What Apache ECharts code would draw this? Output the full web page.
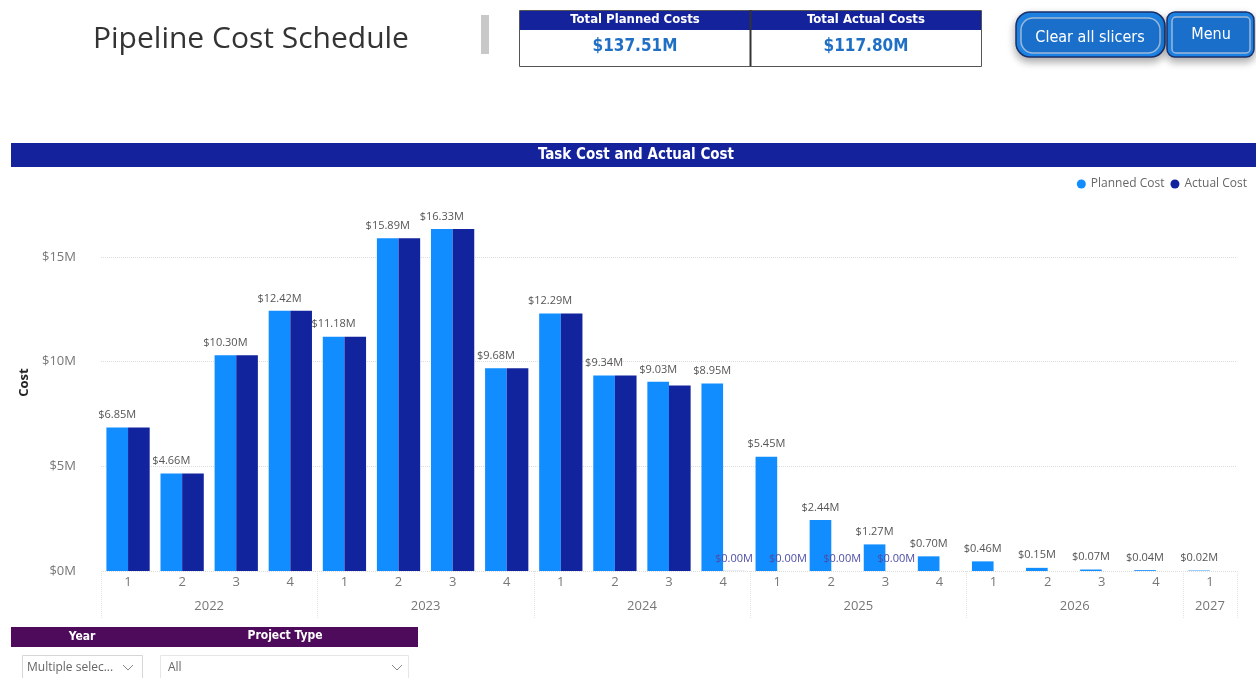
<!DOCTYPE html>
<html>
<head>
<meta charset="utf-8">
<title>Pipeline Cost Schedule</title>
<script src="https://cdn.jsdelivr.net/npm/echarts@6/dist/echarts.min.js"></script>
<style>
  html, body { margin: 0; padding: 0; background: #fff; }
  #main { width: 1256px; height: 678px; }
</style>
</head>
<body>
<div id="main"></div>
<script>
// quarters along the axis, with the year each one belongs to
var quarterLabels = ["1", "2", "3", "4", "1", "2", "3", "4", "1", "2", "3", "4",
  "1", "2", "3", "4", "1", "2", "3", "4", "1"];
var periodYears = ["2022", "2022", "2022", "2022", "2023", "2023", "2023", "2023",
  "2024", "2024", "2024", "2024", "2025", "2025", "2025", "2025",
  "2026", "2026", "2026", "2026", "2027"];

// costs in $M
var plannedCost = [6.85, 4.66, 10.30, 12.42, 11.18, 15.89, 16.33, 9.68, 12.29, 9.34,
  9.03, 8.95, 5.45, 2.44, 1.27, 0.70, 0.46, 0.15, 0.07, 0.04, 0.02];
var actualCost = [6.85, 4.66, 10.30, 12.42, 11.18, 15.89, 16.33, 9.68, 12.29, 9.34,
  8.86, 0.004, 0, 0, 0, null, null, null, null, null, null];

var yMax = 18;
var yStep = 5;

var kpiLabels = ["Total Planned Costs", "Total Actual Costs"];
var kpiValues = ["$137.51M", "$117.80M"];

var PLANNED = "#118DFF";
var ACTUAL = "#12239E";
var FONT = "'Open Sans', 'Noto Sans', sans-serif";
var NARROW = "'Liberation Sans Narrow', 'DejaVu Sans Condensed', sans-serif";

// year axis is built on half-quarter steps so a year name can sit in the middle of its quarters
var yearSlots = [];
for (var k = 0; k <= quarterLabels.length * 2; k++) yearSlots.push("");
var yearLabelIdx = {};
var yearSepIdx = { 0: true };
var i = 0;
while (i < periodYears.length) {
  var j = i;
  while (j + 1 < periodYears.length && periodYears[j + 1] === periodYears[i]) j++;
  yearSlots[i + j + 1] = periodYears[i];
  yearLabelIdx[i + j + 1] = true;
  yearSepIdx[2 * (j + 1)] = true;
  i = j + 1;
}

function money(v) {
  return "$" + v.toFixed(2) + "M";
}

// only show actual labels where they would not sit on top of the planned label
var actualData = actualCost.map(function (v, idx) {
  if (v === null) return null;
  var far = Math.abs(plannedCost[idx] - v) > 1;
  return {
    value: v,
    label: { show: far }
  };
});

var myChart = echarts.init(document.getElementById("main"));

var option = {
  animation: false,
  textStyle: { fontFamily: FONT },
  legend: {
    data: ["Planned Cost", "Actual Cost"],
    right: 4,
    top: 173,
    icon: "circle",
    itemWidth: 9,
    itemHeight: 9,
    itemGap: 6,
    textStyle: { color: "#666", fontSize: 12, fontFamily: FONT },
  },
  grid: {
    left: 101,
    right: 19,
    top: 194,
    bottom: 107,
  },
  xAxis: [
    {
      type: "category",
      position: "bottom",
      data: quarterLabels,
      axisLine: { show: false, onZero: false },
      axisTick: { show: false },
      axisLabel: { color: "#777", fontSize: 13, margin: 5, interval: 0 },
    },
    {
      type: "category",
      position: "bottom",
      boundaryGap: false,
      data: yearSlots,
      axisLine: { show: false, onZero: false },
      axisTick: {
        show: true,
        length: 48,
        interval: function (index) {
          return !!yearSepIdx[index];
        },
        lineStyle: { color: "#e3e3e3", type: "dotted" },
      },
      axisLabel: {
        color: "#777",
        fontSize: 13,
        margin: 29,
        interval: function (index) {
          return !!yearLabelIdx[index];
        },
      },
    },
  ],
  yAxis: {
    type: "value",
    min: 0,
    max: yMax,
    interval: yStep,
    name: "Cost",
    nameLocation: "middle",
    nameGap: 67,
    nameTextStyle: { color: "#252423", fontSize: 13, fontWeight: "bold" },
    axisLine: { show: false },
    axisTick: { show: false },
    axisLabel: {
      color: "#777",
      fontSize: 13,
      margin: 25,
      showMaxLabel: false,
      formatter: function (v) {
        return v % yStep === 0 ? "$" + v + "M" : "";
      },
    },
    splitLine: {
      show: true,
      showMaxLine: false,
      lineStyle: { color: "#dcdcdc", type: "dotted" },
    },
  },
  series: [
    {
      name: "Planned Cost",
      type: "bar",
      data: plannedCost,
      itemStyle: { color: PLANNED },
      barGap: "0%",
      barCategoryGap: "20%",
      label: {
        show: true,
        position: "top",
        distance: 7,
        color: "#555",
        fontSize: 11,
        formatter: function (p) {
          return money(p.value);
        },
      },
    },
    {
      name: "Actual Cost",
      type: "bar",
      data: actualData,
      itemStyle: { color: ACTUAL },
      barGap: "0%",
      barCategoryGap: "20%",
      label: {
        show: true,
        position: "top",
        distance: 7,
        color: "#4d4da6",
        fontSize: 11,
        formatter: function (p) {
          return money(p.value);
        },
      },
    },
  ],
  graphic: {
    elements: [
      // page title
      {
        type: "text",
        x: 93,
        y: 39,
        style: {
          text: "Pipeline Cost Schedule",
          fill: "#333",
          font: "30px " + FONT,
          verticalAlign: "middle",
        },
      },
      {
        type: "rect",
        shape: { x: 481, y: 15, width: 8, height: 39 },
        style: { fill: "#c8c8c8" },
      },
      // kpi cards
      {
        type: "rect",
        shape: { x: 519.5, y: 10.5, width: 462, height: 56 },
        style: { fill: "#fff", stroke: "#555", lineWidth: 1 },
      },
      {
        type: "rect",
        shape: { x: 520, y: 11, width: 461, height: 19 },
        style: { fill: "#14239c" },
      },
      {
        type: "line",
        shape: { x1: 750.5, y1: 10, x2: 750.5, y2: 66 },
        style: { stroke: "#333", lineWidth: 2 },
      },
      {
        type: "text",
        x: 635,
        y: 20,
        style: { text: kpiLabels[0], fill: "#fff", font: "bold 13px " + NARROW, align: "center", verticalAlign: "middle" },
      },
      {
        type: "text",
        x: 866,
        y: 20,
        style: { text: kpiLabels[1], fill: "#fff", font: "bold 13px " + NARROW, align: "center", verticalAlign: "middle" },
      },
      {
        type: "text",
        x: 635,
        y: 47,
        style: { text: kpiValues[0], fill: "#1f6fc5", font: "bold 17px " + NARROW, align: "center", verticalAlign: "middle" },
      },
      {
        type: "text",
        x: 866,
        y: 47,
        style: { text: kpiValues[1], fill: "#1f6fc5", font: "bold 17px " + NARROW, align: "center", verticalAlign: "middle" },
      },
      // buttons
      {
        type: "rect",
        shape: { x: 1016, y: 12, width: 149, height: 45, r: 14 },
        style: { fill: "#1d86ea", stroke: "#1b2f6a", lineWidth: 1.5, shadowBlur: 8, shadowOffsetY: 4, shadowColor: "rgba(0,0,0,0.35)" },
      },
      {
        type: "rect",
        shape: { x: 1021, y: 18, width: 139, height: 35, r: 12 },
        style: { fill: "#1a6fcb", stroke: "#9fb8d8", lineWidth: 1.5 },
      },
      {
        type: "text",
        x: 1090,
        y: 38,
        style: { text: "Clear all slicers", fill: "#fff", font: "16px " + NARROW, align: "center", verticalAlign: "middle" },
      },
      {
        type: "rect",
        shape: { x: 1167, y: 12, width: 87, height: 45, r: 8 },
        style: { fill: "#1d86ea", stroke: "#1b2f6a", lineWidth: 1.5, shadowBlur: 8, shadowOffsetY: 4, shadowColor: "rgba(0,0,0,0.35)" },
      },
      {
        type: "rect",
        shape: { x: 1172, y: 17, width: 78, height: 36, r: 4 },
        style: { fill: "#1a6fcb", stroke: "#9fb8d8", lineWidth: 1.5 },
      },
      {
        type: "text",
        x: 1211,
        y: 35,
        style: { text: "Menu", fill: "#fff", font: "16px " + NARROW, align: "center", verticalAlign: "middle" },
      },
      // chart header
      {
        type: "rect",
        shape: { x: 11, y: 143, width: 1245, height: 24 },
        style: { fill: "#14239c" },
      },
      {
        type: "text",
        x: 636,
        y: 155,
        style: { text: "Task Cost and Actual Cost", fill: "#fff", font: "bold 15px " + NARROW, align: "center", verticalAlign: "middle" },
      },
      // slicers
      {
        type: "rect",
        shape: { x: 11, y: 627, width: 141, height: 20 },
        style: { fill: "#4e0b5c" },
      },
      {
        type: "rect",
        shape: { x: 152, y: 627, width: 266, height: 20 },
        style: { fill: "#4e0b5c" },
      },
      {
        type: "text",
        x: 82,
        y: 637,
        style: { text: "Year", fill: "#fff", font: "bold 12px " + NARROW, align: "center", verticalAlign: "middle" },
      },
      {
        type: "text",
        x: 285,
        y: 636,
        style: { text: "Project Type", fill: "#fff", font: "bold 12px " + NARROW, align: "center", verticalAlign: "middle" },
      },
      {
        type: "rect",
        shape: { x: 22.5, y: 655.5, width: 120, height: 26 },
        style: { fill: "#fff", stroke: "#d6d6d6", lineWidth: 1 },
      },
      {
        type: "text",
        x: 27,
        y: 668,
        style: { text: "Multiple selec...", fill: "#666", font: "12px " + FONT, verticalAlign: "middle" },
      },
      {
        type: "polyline",
        shape: { points: [[123, 665], [128, 670], [133, 665]] },
        style: { stroke: "#888", lineWidth: 1, fill: null },
      },
      {
        type: "rect",
        shape: { x: 160.5, y: 655.5, width: 248, height: 26 },
        style: { fill: "#fff", stroke: "#e6e6e6", lineWidth: 1 },
      },
      {
        type: "text",
        x: 168,
        y: 668,
        style: { text: "All", fill: "#666", font: "12px " + FONT, verticalAlign: "middle" },
      },
      {
        type: "polyline",
        shape: { points: [[392, 665], [397, 670], [402, 665]] },
        style: { stroke: "#888", lineWidth: 1, fill: null },
      },
    ],
  },
};

myChart.setOption(option);
</script>
</body>
</html>
